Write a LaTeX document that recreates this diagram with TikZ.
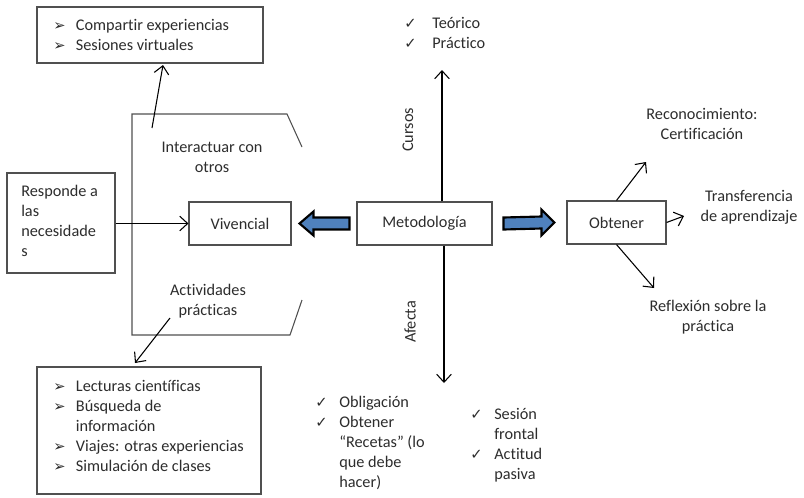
\documentclass[tikz,border=0pt]{standalone}
\usepackage{fontspec}
\setmainfont{Carlito}[Ligatures=NoCommon]
\newfontfamily\symfont{DejaVu Sans}
\usetikzlibrary{arrows.meta,calc}

\definecolor{ink}{RGB}{45,45,45}
\definecolor{framegray}{RGB}{80,80,80}
\definecolor{flowblue}{RGB}{79,129,189}

% list markers
\newcommand{\pointer}{\makebox[17pt][l]{\symfont\fontsize{11}{11}\selectfont ➢}}
\newcommand{\okmark}{\makebox[18pt][l]{\symfont\fontsize{11}{11}\selectfont ✓}}
\newcommand{\okmarkwide}{\makebox[21pt][l]{\symfont\fontsize{11}{11}\selectfont ✓}}

\begin{document}
\begin{tikzpicture}[x=0.75pt,y=-0.75pt,
  every node/.style={text=ink,font=\fontsize{12.2}{15}\selectfont},
  panel/.style={draw=framegray,line width=0.8pt,inner sep=0pt},
  label/.style={align=center,inner sep=0pt},
  listtext/.style={align=left,inner sep=0pt,anchor=west},
  arr/.style={draw=black,line width=0.8pt,-{Straight Barb[length=6pt,width=11pt]}},
  fat/.style={draw=black,line width=1.6pt,fill=flowblue,line join=miter}]

\useasboundingbox[fill=white] (0,0) rectangle (804,497);

% boxes
\node[panel,minimum width=169.5pt,minimum height=42pt] (share) at (150,35) {};
\node[listtext] (sharelist) at (53,35)
  {\pointer Compartir experiencias\\ \pointer Sesiones virtuales};

\node[panel,minimum width=168pt,minimum height=95.25pt] (tasks) at (149,430.5) {};
\node[listtext] (tasklist) at (53,426)
  {\pointer Lecturas científicas\\
   \pointer Búsqueda de\\
   \hspace*{17pt}información\\
   \pointer Viajes: otras experiencias\\
   \pointer Simulación de clases};

\node[panel,minimum width=81pt,minimum height=75pt] (needs) at (61,223) {};
\node[listtext] (needstext) at (21,220.5)
  {Responde a\\las\\necesidade\\s};

\node[panel,minimum width=76.5pt,minimum height=32.25pt] (viv) at (240,223.5) {Vivencial};
\node[panel,minimum width=101.25pt,minimum height=32.25pt] (meto) at (424.5,223.5) {Metodología};
\node[panel,minimum width=74.25pt,minimum height=32.25pt] (obt) at (616.5,222.5) {Obtener};

% open frame around the experiential branch
\draw[framegray,line width=0.8pt]
  (302,147) -- (287,114) -- (132,114) -- (132,335) -- (290,335) -- (302,300);

\node[label] (interact) at (212,157) {Interactuar con\\otros};
\node[label] (practice) at (208,301.5) {Actividades\\prácticas};

% outcome labels
\node[label] (recog) at (702,124) {Reconocimiento:\\Certificación};
\node[label] (transfer) at (749,207) {Transferencia\\de aprendizaje};
\node[label] (reflect) at (708,317) {Reflexión sobre la\\práctica};

% course types and effects
\node[listtext] (kinds) at (404,33) {\okmarkwide Teórico\\ \okmarkwide Práctico};
\node[listtext] (dutyl) at (315,443)
  {\okmark Obligación\\ \okmark Obtener\\ \hspace*{18pt}“Recetas” (lo\\ \hspace*{18pt}que debe\\ \hspace*{18pt}hacer)};
\node[listtext] (dutyr) at (470,445)
  {\okmark Sesión\\ \hspace*{18pt}frontal\\ \okmark Actitud\\ \hspace*{18pt}pasiva};

\node[rotate=90,inner sep=0pt] (cursos) at (408,130) {Cursos};
\node[rotate=90,inner sep=0pt] (afecta) at (410,322) {Afecta};

% connector end points
\coordinate (shareFoot) at (152,128);
\coordinate (shareTip) at (163,65);
\coordinate (taskFoot) at (170,318);
\coordinate (taskTip) at (135,363);
\coordinate (cursosTip) at (442,70);
\coordinate (afectaTip) at (444,383);
\coordinate (recogTip) at (646,162);
\coordinate (transferTip) at (684,216);
\coordinate (reflectTip) at (654,288);

% thin connectors
\draw[arr] (shareFoot) -- (shareTip);
\draw[arr] (taskFoot) -- (taskTip);
\draw[arr] (needs.east |- viv.west) -- (viv.west);
\draw[arr] (meto.north -| cursosTip) -- (cursosTip);
\draw[arr] (meto.south -| afectaTip) -- (afectaTip);
\draw[arr] (obt.north) -- (recogTip);
\draw[arr] (obt.east) -- (transferTip);
\draw[arr] (obt.south) -- (reflectTip);

% block arrows leaving the method box
\draw[fat] ($(viv.east)+(8,0)$) -- ++(14,-12) -- ++(0,6)
  -- ($(meto.west)+(-7,-6)$) -- ++(0,12)
  -- ($(viv.east)+(22,6)$) -- ++(0,6) -- cycle;
\draw[fat] ($(obt.west)+(-12,0)$) -- ++(-13,-13) -- ++(0,7)
  -- ($(meto.east)+(11,-6)$) -- ++(0,12)
  -- ($(obt.west)+(-25,6)$) -- ++(0,7) -- cycle;
\end{tikzpicture}
\end{document}
